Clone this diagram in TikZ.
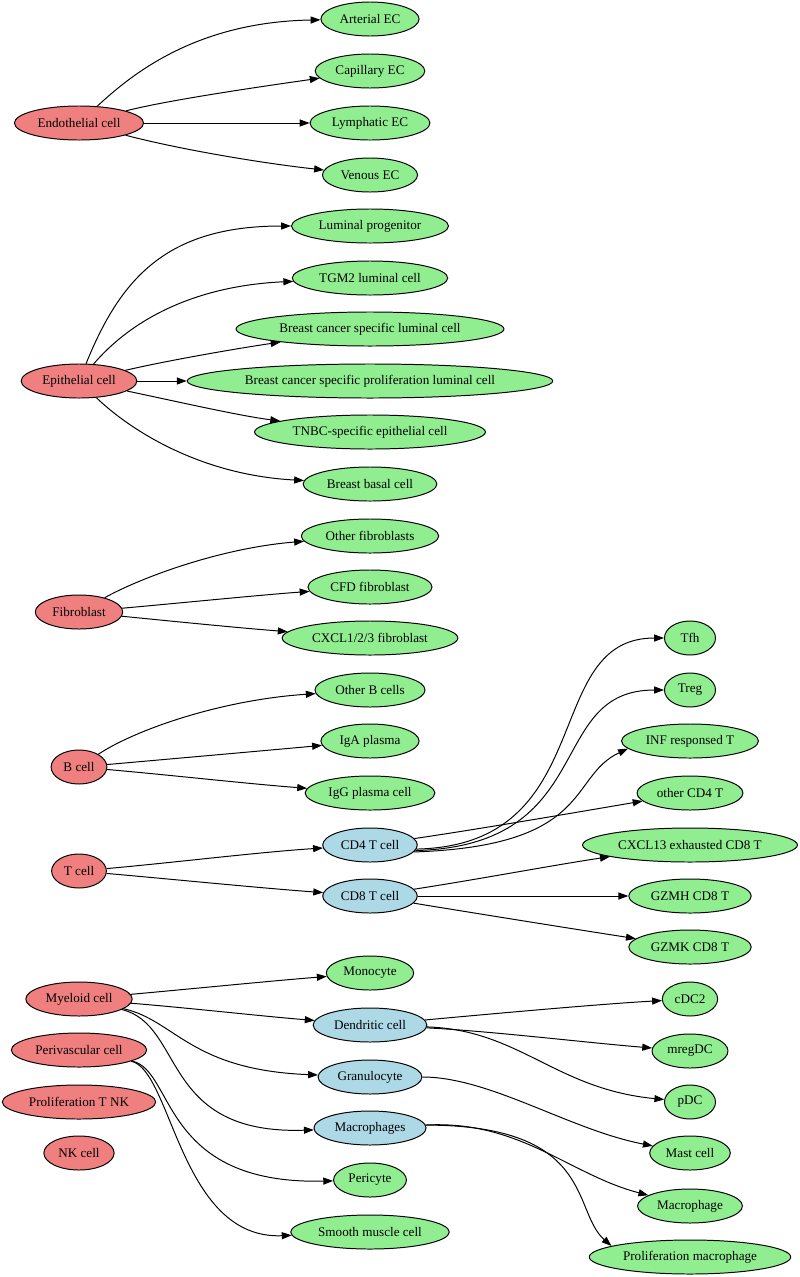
\documentclass[tikz,border=0pt]{standalone}
\usepackage{fontspec}
\setmainfont{Liberation Serif}
\usetikzlibrary{shapes.geometric, arrows.meta}

\definecolor{rootred}{HTML}{F08080}
\definecolor{leafgreen}{HTML}{90EE90}
\definecolor{branchblue}{HTML}{ADD8E6}

\begin{document}
\begin{tikzpicture}[x=0.025cm, y=-0.025cm,
  cell/.style={ellipse, draw, line width=0.7pt, minimum width=1.275cm, minimum height=0.85cm,
    inner xsep=3pt, inner ysep=0pt, font=\fontsize{9.35}{11}\selectfont},
  root/.style={cell, fill=rootred},
  leaf/.style={cell, fill=leafgreen},
  branch/.style={cell, fill=branchblue},
  link/.style={line width=0.7pt, -{Triangle[length=7pt, width=5pt]}}]

  \useasboundingbox (0,0) rectangle (800,1277);

  % Hauptgruppen
  \node[root] (endo)  at (79,123)  {Endothelial cell};
  \node[root] (epi)   at (79,381)  {Epithelial cell};
  \node[root] (fib)   at (79,612)  {Fibroblast};
  \node[root] (bcell) at (79,767)  {B cell};
  \node[root] (tcell) at (79,871)  {T cell};
  \node[root] (myel)  at (79,999)  {Myeloid cell};
  \node[root] (peri)  at (79,1050) {Perivascular cell};
  \node[root] (ptnk)  at (79,1102) {Proliferation T NK};
  \node[root] (nk)    at (79,1153) {NK cell};

  % mittlere Spalte
  \node[leaf] (art)   at (370,19)  {Arterial EC};
  \node[leaf] (cap)   at (370,71)  {Capillary EC};
  \node[leaf] (lym)   at (370,123) {Lymphatic EC};
  \node[leaf] (ven)   at (370,175) {Venous EC};
  \node[leaf] (lp)    at (370,226) {Luminal progenitor};
  \node[leaf] (tgm)   at (370,278) {TGM2 luminal cell};
  \node[leaf] (bcsl)  at (370,329) {Breast cancer specific luminal cell};
  \node[leaf] (bcspl) at (370,381) {Breast cancer specific proliferation luminal cell};
  \node[leaf] (tnbc)  at (370,432) {TNBC-specific epithelial cell};
  \node[leaf] (basal) at (370,484) {Breast basal cell};
  \node[leaf] (ofib)  at (370,536) {Other fibroblasts};
  \node[leaf] (cfd)   at (370,587) {CFD fibroblast};
  \node[leaf] (cxcl)  at (370,638) {CXCL1/2/3 fibroblast};
  \node[leaf] (ob)    at (370,690) {Other B cells};
  \node[leaf] (iga)   at (370,741) {IgA plasma};
  \node[leaf] (igg)   at (370,793) {IgG plasma cell};
  \node[branch] (cd4) at (370,845) {CD4 T cell};
  \node[branch] (cd8) at (370,896) {CD8 T cell};
  \node[leaf] (mono)  at (370,973) {Monocyte};
  \node[branch] (dc)  at (370,1025) {Dendritic cell};
  \node[branch] (gran) at (370,1077) {Granulocyte};
  \node[branch] (mac) at (370,1128) {Macrophages};
  \node[leaf] (pcyte) at (370,1180) {Pericyte};
  \node[leaf] (smc)   at (370,1232) {Smooth muscle cell};

  % rechte Spalte
  \node[leaf] (tfh)    at (690,638)  {Tfh};
  \node[leaf] (treg)   at (690,690)  {Treg};
  \node[leaf] (inf)    at (690,741)  {INF responsed T};
  \node[leaf] (ocd4)   at (690,793)  {other CD4 T};
  \node[leaf] (cxcl13) at (690,845)  {CXCL13 exhausted CD8 T};
  \node[leaf] (gzmh)   at (690,896)  {GZMH CD8 T};
  \node[leaf] (gzmk)   at (690,947)  {GZMK CD8 T};
  \node[leaf] (cdc)    at (690,999)  {cDC2};
  \node[leaf] (mreg)   at (690,1051) {mregDC};
  \node[leaf] (pdc)    at (690,1102) {pDC};
  \node[leaf] (mast)   at (690,1153) {Mast cell};
  \node[leaf] (macro)  at (690,1206) {Macrophage};
  \node[leaf] (pmac)   at (690,1257) {Proliferation macrophage};

  % Kanten
  \draw[link] (endo) .. controls +(51,-47) and +(-176,3) .. (art);
  \draw[link] (endo) .. controls +(89,-23) and +(-105,15) .. (cap);
  \draw[link] (endo) -- (lym);
  \draw[link] (endo) .. controls +(99,26) and +(-110,-12) .. (ven);

  \draw[link] (epi) .. controls +(41,-101) and +(-205,0) .. (lp);
  \draw[link] (epi) .. controls +(61,-71) and +(-160,7) .. (tgm);
  \draw[link] (epi) .. controls +(91,-21) and +(-130,19) .. (bcsl);
  \draw[link] (epi) -- (bcspl);
  \draw[link] (epi) .. controls +(91,19) and +(-130,-16) .. (tnbc);
  \draw[link] (epi) .. controls +(51,49) and +(-170,-9) .. (basal);

  \draw[link] (fib) .. controls +(61,-34) and +(-150,12) .. (ofib);
  \draw[link] (fib) .. controls +(91,-8) and +(-110,8) .. (cfd);
  \draw[link] (fib) .. controls +(91,9) and +(-130,-10) .. (cxcl);

  \draw[link] (bcell) .. controls +(56,-37) and +(-150,10) .. (ob);
  \draw[link] (bcell) .. controls +(91,-8) and +(-110,10) .. (iga);
  \draw[link] (bcell) .. controls +(91,8) and +(-120,-9) .. (igg);

  \draw[link] (tcell) .. controls +(91,-8) and +(-110,7) .. (cd4);
  \draw[link] (tcell) .. controls +(91,8) and +(-110,-8) .. (cd8);

  \draw[link] (cd4) .. controls +(110,-16) and +(-100,17) .. (ocd4);
  \draw[link] (cd4.-5) .. controls +(185,-4) and +(-125,0) .. (tfh.west);
  \draw[link] (cd4.-7) .. controls +(185,-5) and +(-120,0) .. (treg.west);
  \draw[link] (cd4.-9) .. controls +(180,-6) and +(-60,28) .. (inf.187);

  \draw[link] (cd8) .. controls +(110,-17) and +(-130,19) .. (cxcl13);
  \draw[link] (cd8) -- (gzmh);
  \draw[link] (cd8) .. controls +(110,18) and +(-110,-17) .. (gzmk);

  \draw[link] (myel) .. controls +(111,-10) and +(-100,8) .. (mono);
  \draw[link] (myel) .. controls +(111,9) and +(-110,-9) .. (dc);
  \draw[link] (myel) .. controls +(96,21) and +(-180,-7) .. (gran);
  \draw[link] (myel) .. controls +(106,26) and +(-210,7) .. (mac);

  \draw[link] (peri) .. controls +(96,20) and +(-210,5) .. (pcyte);
  \draw[link] (peri) .. controls +(93,20) and +(-190,8) .. (smc);

  \draw[link] (dc) .. controls +(120,-11) and +(-90,5) .. (cdc);
  \draw[link] (dc) .. controls +(120,6) and +(-100,-8) .. (mreg);
  \draw[link] (dc) .. controls +(150,5) and +(-135,-13) .. (pdc);

  \draw[link] (gran) .. controls +(120,0) and +(-120,-23) .. (mast);

  \draw[link] (mac) .. controls +(150,-8) and +(-120,-31) .. (macro);
  \draw[link] (mac.3) .. controls +(170,0) and +(-40,-35) .. (pmac.172);

\end{tikzpicture}
\end{document}
